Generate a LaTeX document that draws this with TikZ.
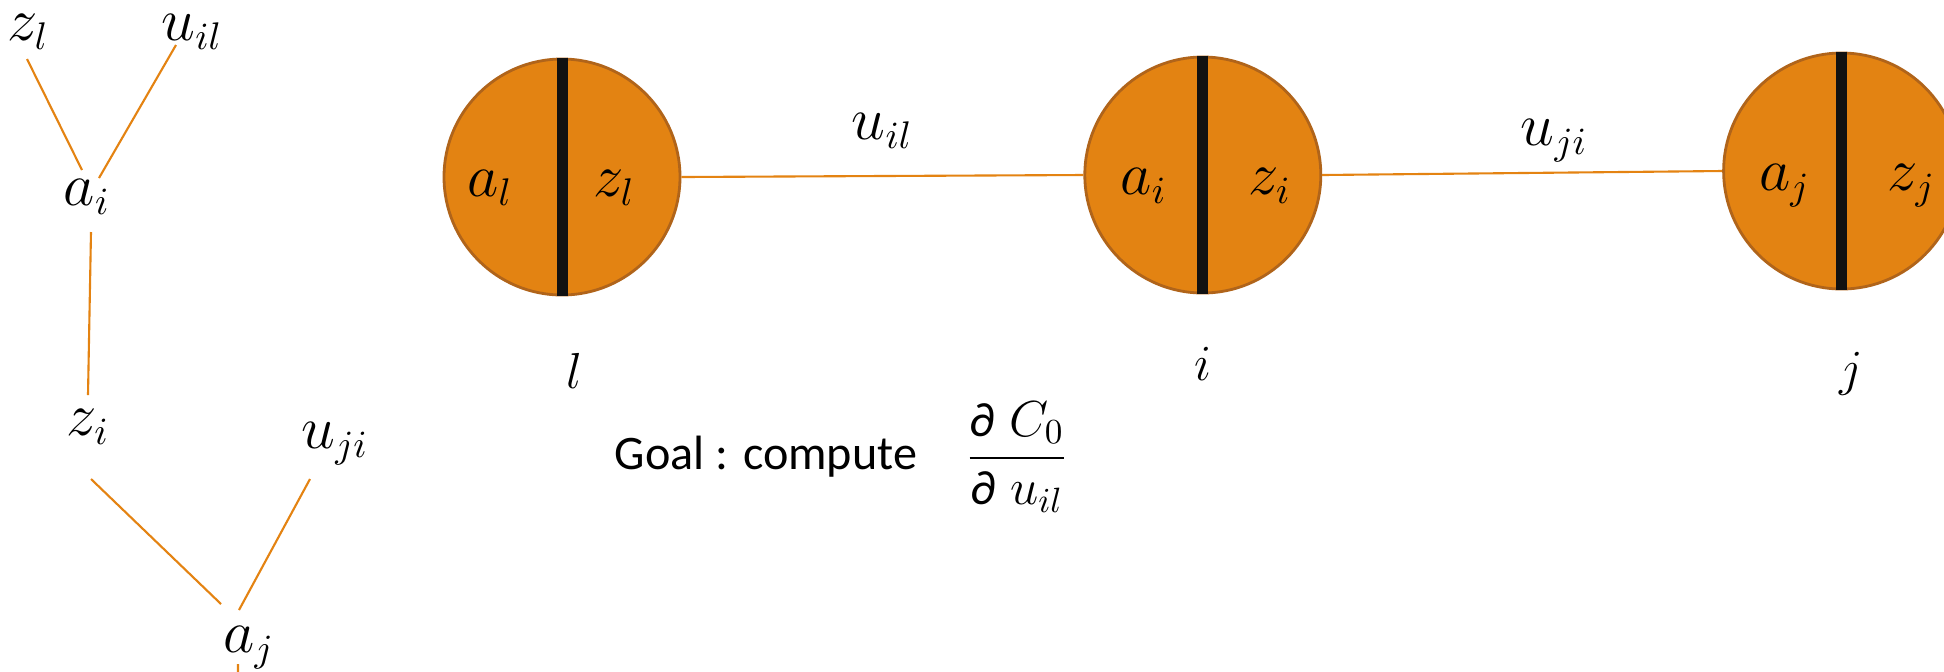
\documentclass[tikz,border=0pt]{standalone}
\usepackage{amsmath}
\usepackage{fontspec}
\newfontfamily\goalfont{Carlito}
\usepackage{tikz}
\usetikzlibrary{positioning}

\definecolor{unitfill}{RGB}{227,131,18}
\definecolor{unitedge}{RGB}{176,100,26}
\definecolor{linkorange}{RGB}{228,131,18}
\definecolor{barblack}{RGB}{17,17,17}

\begin{document}
\begin{tikzpicture}[
  x=0.1mm, y=-0.1mm,
  lbl/.style={inner sep=0pt, font=\fontsize{16}{19}\selectfont},
  idx/.style={inner sep=0pt, font=\fontsize{13.5}{16}\selectfont},
  goal/.style={inner sep=0pt, font=\goalfont\fontsize{13.7}{16}\selectfont},
  unit/.style={circle, draw=unitedge, fill=unitfill, line width=0.8pt, minimum size=23.6mm, inner sep=0pt},
  bar/.style={draw=barblack, line width=1.1mm},
  link/.style={draw=linkorange, line width=0.6pt}
]
\path[use as bounding box, fill=white] (0,0) rectangle (1944,671);

% computation tree
\node[lbl] (zl) at (28,32) {$z_l$};
\node[lbl] (uil) at (192,32) {$u_{il}$};
\node[lbl] (ai) at (87,197) {$a_i$};
\node[lbl] (zi) at (88,427) {$z_i$};
\node[lbl] (uji) at (335,444) {$u_{ji}$};
\node[lbl] (aj) at (249,648) {$a_j$};
\coordinate (ajout) at (238,700);
\draw[link] ([xshift=-0.1mm,yshift=-2.7mm]zl.center) -- ([xshift=-0.5mm,yshift=2.7mm]ai.center);
\draw[link] ([xshift=-1.6mm,yshift=-1.3mm]uil.center) -- ([xshift=1.2mm,yshift=1.9mm]ai.center);
\draw[link] ([xshift=0.4mm,yshift=-3.5mm]ai.center) -- ([yshift=3.2mm]zi.center);
\draw[link] ([xshift=0.3mm,yshift=-5.2mm]zi.center) -- ([xshift=-2.8mm,yshift=4.4mm]aj.center);
\draw[link] ([xshift=-2.5mm,yshift=-3.5mm]uji.center) -- ([xshift=-1mm,yshift=3.8mm]aj.center);
\draw[link] ([xshift=-1.1mm,yshift=-1.6mm]aj.center) -- (ajout);

% units
\node[unit] (l) at (562,177) {};
\node[unit, right=40.2mm of l, yshift=0.2mm] (i) {};
\node[unit, right=40mm of i, yshift=0.4mm] (j) {};
\draw[link] (l.east) -- (i.west) node[lbl, midway, above=2.6mm] (lblil) {$u_{il}$};
\draw[link] (i.east) -- (j.west) node[lbl, pos=0.58, above=1mm] (lblji) {$u_{ji}$};
\foreach \u in {l,i,j}
  \draw[bar] (\u.north) -- (\u.south);
\node[lbl, anchor=base] (al) at ([xshift=-7.2mm,yshift=-1.9mm]l.center) {$a_l$};
\node[lbl, anchor=base] (zll) at ([xshift=5.2mm,yshift=-1.9mm]l.center) {$z_l$};
\node[lbl, anchor=base] (aii) at ([xshift=-5.9mm,yshift=-1.9mm]i.center) {$a_i$};
\node[lbl, anchor=base] (zii) at ([xshift=6.7mm,yshift=-1.9mm]i.center) {$z_i$};
\node[lbl, anchor=base] (ajj) at ([xshift=-5.7mm,yshift=-1.9mm]j.center) {$a_j$};
\node[lbl, anchor=base] (zjj) at ([xshift=7mm,yshift=-1.9mm]j.center) {$z_j$};
\node[idx, below=5.6mm of l, xshift=1.2mm] (nl) {$l$};
\node[idx, below=5.2mm of i] (ni) {$i$};
\node[idx, below=6.1mm of j, xshift=1mm] (nj) {$j$};

% goal
\node[goal] (gtext) at (766,457) {Goal : compute};
\node[goal, right=4.7mm of gtext] (gfrac) {$\displaystyle\frac{\text{\goalfont ∂}\;C_0}{\text{\goalfont ∂}\;u_{il}}$};
\end{tikzpicture}
\end{document}
